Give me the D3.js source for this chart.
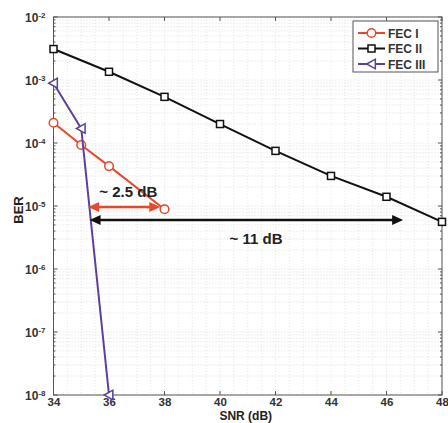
<!DOCTYPE html>
<html><head><meta charset="utf-8">
<script src="https://cdn.jsdelivr.net/npm/d3@7"></script>
<style>body{margin:0;background:#fff}svg{display:block}text{font-family:"Liberation Sans",Arial,sans-serif;font-weight:bold}</style>
</head><body><svg id="c" width="448" height="423"></svg>
<script>
const snrTicks = [34,36,38,40,42,44,46,48];
const berExponents = [-8,-7,-6,-5,-4,-3,-2];
const fec1X = [34,35,36,38];
const fec1Y = [2.1e-4,9.3e-5,4.3e-5,8.9e-6];
const fec2X = [34,36,38,40,42,44,46,48];
const fec2Y = [3.1e-3,1.35e-3,5.4e-4,2.0e-4,7.5e-5,3.0e-5,1.4e-5,5.6e-6];
const fec3X = [34,35,36];
const fec3Y = [8.9e-4,1.7e-4,1e-8];
const seriesNames = ["FEC I","FEC II","FEC III"];
const seriesColors = ["#e8472b","#111111","#5b3f9c"];
const annotations = [
  {label:"~ 2.5 dB", x1:35.25, x2:37.85, y:9.6e-6, tx:35.65, ty:1.39e-5, color:"#e8472b", anchor:"start"},
  {label:"~ 11 dB", x1:35.3, x2:46.6, y:6e-6, tx:41.3, ty:2.5e-6, color:"#111111", anchor:"middle"}
];

const svg = d3.select("#c");
const L=53.5, R=442, T=17, B=395;
const x = d3.scaleLinear().domain([34,48]).range([L,R]);
const y = d3.scaleLog().domain([1e-8,1e-2]).range([B,T]);

// grid
const g = svg.append("g");
const minorY = [];
for (let e=-8;e<-2;e++) for (let m=1;m<10;m++) minorY.push(m*Math.pow(10,e));
minorY.push(1e-2);
g.selectAll("line.hy").data(minorY).join("line")
  .attr("x1",L).attr("x2",R).attr("y1",d=>y(d)).attr("y2",d=>y(d))
  .attr("stroke","#d6d6d6").attr("stroke-width",0.8).attr("stroke-dasharray","1,2");
const minorX = d3.range(34,48.01,0.5);
g.selectAll("line.vx").data(minorX).join("line")
  .attr("y1",T).attr("y2",B).attr("x1",d=>x(d)).attr("x2",d=>x(d))
  .attr("stroke","#e0e0e0").attr("stroke-width",0.8).attr("stroke-dasharray","1,2");

// axes (ticks inside)
const tickVals = berExponents.map(e=>Math.pow(10,e));
const ax = svg.append("g").attr("transform",`translate(0,${B})`)
  .call(d3.axisBottom(x).tickValues(snrTicks).tickSize(0).tickPadding(3).tickFormat(d3.format("d")));
ax.select(".domain").remove();
ax.selectAll("text").attr("font-size",11.5).attr("fill","#333");
const ay = svg.append("g").attr("transform",`translate(${L},0)`)
  .call(d3.axisLeft(y).tickValues(tickVals).tickSize(0).tickPadding(6).tickFormat(""));
ay.select(".domain").remove();
ay.selectAll(".tick").each(function(d){
  const t=d3.select(this).append("text").attr("x",-8).attr("dy","0.35em").attr("text-anchor","end")
    .attr("fill","#333").attr("font-size",12);
  t.append("tspan").text("10");
  t.append("tspan").attr("dy","-0.5em").attr("font-size",8).text(Math.round(Math.log10(d)));
});
// inner tick marks
svg.append("g").selectAll("line").data(snrTicks).join("line")
  .attr("x1",d=>x(d)).attr("x2",d=>x(d)).attr("y1",B).attr("y2",B-4).attr("stroke","#555");
svg.append("g").selectAll("line").data(snrTicks).join("line")
  .attr("x1",d=>x(d)).attr("x2",d=>x(d)).attr("y1",T).attr("y2",T+4).attr("stroke","#555");
svg.append("g").selectAll("line").data(minorY).join("line")
  .attr("x1",L).attr("x2",d=>L+(Math.abs(Math.log10(d)%1)<1e-9?4:2)).attr("y1",d=>y(d)).attr("y2",d=>y(d)).attr("stroke","#555");
svg.append("g").selectAll("line").data(minorY).join("line")
  .attr("x1",R).attr("x2",d=>R-(Math.abs(Math.log10(d)%1)<1e-9?4:2)).attr("y1",d=>y(d)).attr("y2",d=>y(d)).attr("stroke","#555");
svg.append("rect").attr("x",L).attr("y",T).attr("width",R-L).attr("height",B-T)
  .attr("fill","none").attr("stroke","#555").attr("stroke-width",1);

// labels
svg.append("text").attr("x",(L+R)/2-2).attr("y",420).attr("text-anchor","middle")
  .attr("font-size",12).attr("fill","#222").text("SNR (dB)");
svg.append("text").attr("transform",`translate(23,${(T+B)/2+4}) rotate(-90)`).attr("text-anchor","middle")
  .attr("font-size",13).attr("fill","#222").text("BER");

// series
const series = [
  {xs:fec1X, ys:fec1Y},{xs:fec2X, ys:fec2Y},{xs:fec3X, ys:fec3Y}
];
const line = d3.line().x(d=>x(d[0])).y(d=>y(d[1]));
const tri = (cx,cy,s)=>`M${cx-s},${cy}L${cx+s*0.8},${cy-s}L${cx+s*0.8},${cy+s}Z`;
function marker(sel,i,cx,cy,col){
  if(i===0) sel.append("circle").attr("cx",cx).attr("cy",cy).attr("r",4.3).attr("fill","#fff").attr("stroke",col).attr("stroke-width",1.5);
  else if(i===1) sel.append("rect").attr("x",cx-3.5).attr("y",cy-3.5).attr("width",7).attr("height",7).attr("fill","#fff").attr("stroke",col).attr("stroke-width",1.5);
  else sel.append("path").attr("d",tri(cx,cy,4.8)).attr("fill","#fff").attr("stroke",col).attr("stroke-width",1.5);
}
const order=[1,0,2];
order.forEach(i=>{
  const s=series[i], pts=s.xs.map((v,k)=>[v,s.ys[k]]);
  svg.append("path").attr("d",line(pts)).attr("fill","none").attr("stroke",seriesColors[i]).attr("stroke-width",2);
  const mg=svg.append("g");
  pts.forEach(p=>marker(mg,i,x(p[0]),y(p[1]),seriesColors[i]));
});

// annotations
annotations.forEach(a=>{
  const X1=x(a.x1), X2=x(a.x2), Y=y(a.y), h=11, w=5;
  svg.append("line").attr("x1",X1+h-1).attr("x2",X2-h+1).attr("y1",Y).attr("y2",Y).attr("stroke",a.color).attr("stroke-width",2.5);
  svg.append("path").attr("d",`M${X1},${Y}L${X1+h},${Y-w}L${X1+h},${Y+w}Z`).attr("fill",a.color);
  svg.append("path").attr("d",`M${X2},${Y}L${X2-h},${Y-w}L${X2-h},${Y+w}Z`).attr("fill",a.color);
  svg.append("text").attr("x",x(a.tx)).attr("y",y(a.ty)).attr("text-anchor",a.anchor)
    .attr("font-size",15).attr("fill","#222").text(a.label);
});

// legend
const lg=svg.append("g");
lg.append("rect").attr("x",353).attr("y",21).attr("width",85).attr("height",51).attr("fill","#fff").attr("stroke","#555");
seriesNames.forEach((n,i)=>{
  const yy=33+i*15.5;
  lg.append("line").attr("x1",358).attr("x2",385).attr("y1",yy).attr("y2",yy).attr("stroke",seriesColors[i]).attr("stroke-width",2);
  marker(lg,i,371.5,yy,seriesColors[i]);
  lg.append("text").attr("x",388).attr("y",yy+4.5).attr("font-size",12).attr("fill","#333").text(n);
});
</script></body></html>
